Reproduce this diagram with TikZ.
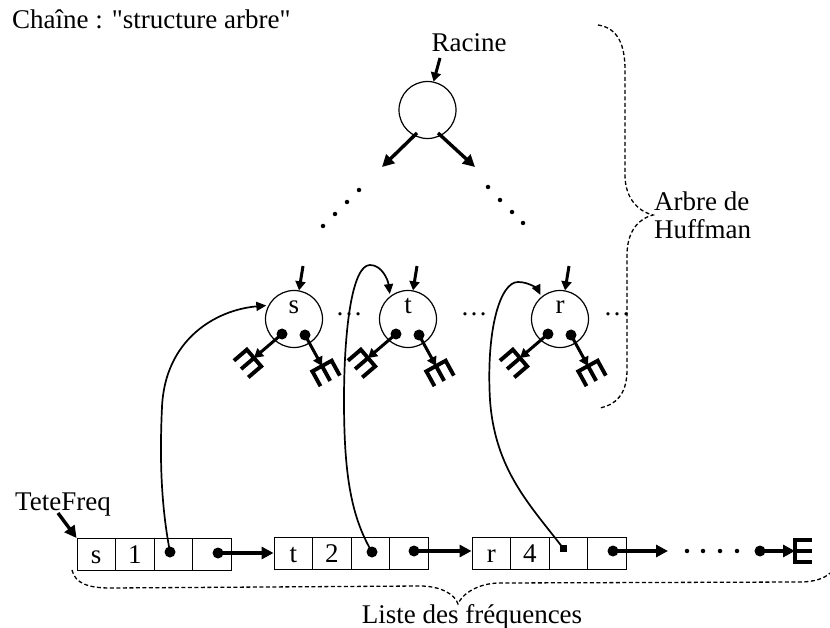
\documentclass[tikz,border=0pt]{standalone}
\usepackage{fontspec}
\setmainfont{Liberation Serif}[Ligatures=TeXOff]
\usetikzlibrary{arrows.meta,decorations.markings,calc}

% the "empty pointer" symbol, drawn along the local x axis
\newcommand\nilshape{%
  \draw[-, line width=3.9pt, line cap=butt]
     (0,-13) -- (0,13)
     (0,-11) -- (17,-11) (0,0) -- (17,0) (0,11) -- (17,11);}

\begin{document}
\begin{tikzpicture}[x=1pt,y=-1pt,
  txt/.style={font=\fontsize{27}{28}\selectfont, inner sep=0pt},
  tnode/.style={circle, draw, line width=1.2pt, minimum size=57pt, inner sep=0pt},
  ptrdot/.style={circle, fill, inner sep=0pt, minimum size=11pt},
  ptrsq/.style={rectangle, fill, inner sep=0pt, minimum size=7pt},
  cellbox/.style={rectangle, draw, line width=0.9pt, minimum width=38.5pt, minimum height=32pt,
    inner sep=0pt, text height=18pt, text depth=0pt, font=\fontsize{27}{28}\selectfont},
  bigarrow/.style={line width=3.4pt, -{Triangle[length=12pt,width=12pt]}},
  smallarrow/.style={line width=3pt, -{Triangle[length=9pt,width=10pt]}},
  curvearrow/.style={line width=1.7pt, -{Triangle[length=10pt,width=9pt]}, shorten >=2pt},
  brace/.style={line width=1.3pt, dash pattern=on 4pt off 2.5pt},
  tonil/.style={postaction={decorate, decoration={markings,
     mark=at position 1 with {\nilshape}}}},
  tinydot/.style={circle, fill, inner sep=0pt, minimum size=4.5pt}
]
\useasboundingbox (0,0) rectangle (830,628);

% titles and labels
\node[txt, anchor=base west] (title) at (12,29) {Chaîne : "structure arbre"};
\node[txt, anchor=base] (racine) at (469,52) {Racine};
\node[txt, anchor=west, align=left] (huff) at (654,215) {Arbre de\\Huffman};
\node[txt, anchor=base west] (tete) at (15,510) {TeteFreq};
\node[txt, anchor=base] (liste) at (472,623) {Liste des fréquences};

% root of the tree
\node[tnode] (root) at (427.5,110) {};
\coordinate (rootin) at (440,58);
\draw[smallarrow] (rootin) -- (root.78);
\coordinate (rl0) at ($(root)+(-10.5,23)$);
\coordinate (rr0) at ($(root)+(10.5,23)$);
\coordinate (rl1) at (382,167);
\coordinate (rr1) at (475,167);
\draw[bigarrow] (rl0) -- (rl1);
\draw[bigarrow] (rr0) -- (rr1);
\foreach \p [count=\i] in {(323,226),(335,214),(347,202),(359,190)}
  \node[tinydot] (dl\i) at \p {};
\foreach \p [count=\i] in {(488,187),(500,200),(512,212),(523,223)}
  \node[tinydot] (dr\i) at \p {};

% leaves s, t, r with their two empty children
\foreach \n/\x in {s/294,t/408,r/560}{
  \node[tnode] (\n) at (\x,319) {};
  \node[txt, anchor=base] (\n lab) at (\x,314) {\n};
  \node[ptrdot] (\n L) at ($(\n)+(-12,15)$) {};
  \node[ptrdot] (\n R) at ($(\n)+(11,16)$) {};
  \coordinate (\n Lend) at ($(\n)+(-40,39)$);
  \coordinate (\n Rend) at ($(\n)+(28,47)$);
  \draw[smallarrow, tonil] (\n L.center) -- (\n Lend);
  \draw[smallarrow, tonil] (\n R.center) -- (\n Rend);
  \coordinate (\n in) at ($(\n)+(9,-53)$);
  \draw[smallarrow] (\n in) -- (\n.80);
}
\node[txt, anchor=base] (e1) at (349,316) {…};
\node[txt, anchor=base] (e2) at (474,316) {…};
\node[txt, anchor=base] (e3) at (617,316) {…};

% frequency list
\foreach \rec/\lx/\y/\ch/\fr in {1/77/554.5/s/1, 2/274/553/t/2, 3/472/553/r/4}{
  \node[cellbox] (c\rec a) at (\lx+19.25,\y) {\ch};
  \node[cellbox] (c\rec b) at (\lx+57.75,\y) {\fr};
  \node[cellbox] (c\rec c) at (\lx+96.25,\y) {};
  \node[cellbox] (c\rec d) at (\lx+134.75,\y) {};
}
\node[ptrdot] (p1c) at (170,552) {};
\node[ptrdot] (p1d) at (218,553) {};
\node[ptrdot] (p2c) at (372,552) {};
\node[ptrdot] (p2d) at (414,551) {};
\node[ptrsq] (p3c) at (563,548) {};
\node[ptrdot] (p3d) at (613,551) {};
\coordinate (lend) at (668,551);
\draw[bigarrow] (p1d.center) -- (c2a.west |- p1d);
\draw[bigarrow] (p2d.center) -- (c3a.west |- p2d);
\draw[bigarrow] (p3d.center) -- (lend);
\foreach \x [count=\i] in {687,703,720,737}
  \node[tinydot] (ld\i) at (\x,551) {};
\node[ptrdot] (plast) at (760,551) {};
\coordinate (nilend) at (795,551);
\draw[bigarrow, tonil] (plast.center) -- (nilend);

% head pointer
\coordinate (tetetip) at (c1a.north west);
\draw[bigarrow] (58,513) -- (tetetip);

% pointers from the list cells to the tree leaves
\draw[curvearrow] (p1c.center) .. controls (160,500) and (160,450) .. (162,407)
  .. controls (165,340) and (215,310) .. (s.152);
\draw[curvearrow] (p2c.center) .. controls (350,515) and (344,470) .. (344,400)
  .. controls (344,330) and (352,265) .. (370,265)
  .. controls (382,265) and (388,280) .. (t.128);
\draw[curvearrow] (p3c.center) .. controls (530,505) and (495,470) .. (490,400)
  .. controls (486,330) and (500,282) .. (518,282)
  .. controls (530,282) and (538,290) .. (r.130);

% dashed braces
\draw[brace] (598,25) .. controls (618,28) and (625,45) .. (625,70) -- (625,175)
  .. controls (625,200) and (640,212) .. (653,215)
  .. controls (640,218) and (627,230) .. (627,255) -- (627,370)
  .. controls (627,395) and (615,405) .. (600,408);
\draw[brace] (72,570) .. controls (75,584) and (90,588) .. (110,588) -- (420,586)
  .. controls (440,586) and (455,594) .. (458,604)
  .. controls (462,594) and (478,583) .. (500,583) -- (800,582)
  .. controls (815,582) and (825,578) .. (830,573);
\end{tikzpicture}
\end{document}
